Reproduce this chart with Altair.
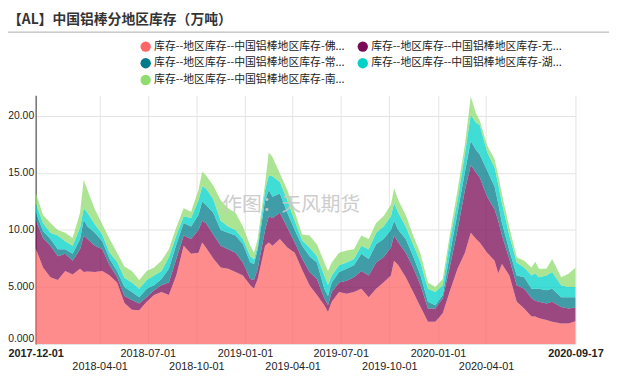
import altair as alt
import pandas as pd

# ---- data ----
dates = [
    "2017-12-01", "2017-12-15", "2017-12-29", "2018-01-12", "2018-01-26", "2018-02-09", "2018-02-23",
    "2018-03-02", "2018-03-09", "2018-03-23", "2018-04-06", "2018-04-20", "2018-05-04", "2018-05-18",
    "2018-06-01", "2018-06-15", "2018-06-29", "2018-07-13", "2018-07-27", "2018-08-10", "2018-08-24",
    "2018-09-07", "2018-09-21", "2018-10-05", "2018-10-12", "2018-10-19", "2018-11-02", "2018-11-16",
    "2018-11-30", "2018-12-14", "2018-12-28", "2019-01-11", "2019-01-18", "2019-01-25", "2019-02-08",
    "2019-02-15", "2019-02-22", "2019-03-08", "2019-03-22", "2019-04-05", "2019-04-19", "2019-05-03",
    "2019-05-17", "2019-05-31", "2019-06-07", "2019-06-14", "2019-06-28", "2019-07-12", "2019-07-26",
    "2019-08-09", "2019-08-23", "2019-09-06", "2019-09-20", "2019-10-04", "2019-10-10", "2019-10-18",
    "2019-11-01", "2019-11-15", "2019-11-29", "2019-12-13", "2019-12-27", "2020-01-10", "2020-01-24",
    "2020-02-07", "2020-02-21", "2020-03-03", "2020-03-13", "2020-03-20", "2020-04-03", "2020-04-17",
    "2020-04-24", "2020-05-01", "2020-05-15", "2020-05-29", "2020-06-12", "2020-06-26", "2020-07-03",
    "2020-07-10", "2020-07-24", "2020-08-04", "2020-08-21", "2020-09-04", "2020-09-17",
]

foshan = [8.4, 6.7, 5.85, 5.6, 6.4, 6.1, 6.6, 6.3, 6.35, 6.3,
          6.4, 6.0, 5.4, 3.6, 3.0, 2.95, 3.7, 4.3, 4.55, 4.3,
          6.0, 8.6, 7.9, 8.0, 8.9, 8.45, 7.5, 6.7, 6.6, 6.3,
          6.0, 5.15, 4.85, 5.7, 8.6, 8.9, 8.6, 9.2, 8.45, 8.0,
          6.5, 5.15, 4.3, 3.4, 2.8, 3.7, 4.55, 4.4, 4.55, 4.85,
          4.1, 4.85, 5.4, 6.0, 7.3, 6.9, 5.85, 4.55, 3.25, 1.95,
          1.95, 2.7, 4.7, 6.6, 8.0, 9.75, 9.2, 8.9, 8.0, 7.3,
          6.2, 7.0, 6.0, 3.7, 3.1, 2.4, 2.4, 2.25, 2.1, 1.95,
          1.8, 1.8, 2.0]
wuxi = [2.5, 2.6, 2.75, 2.1, 1.5, 1.2, 1.7, 3.2, 2.85, 2.3,
        1.9, 0.9, 0.5, 0.6, 0.85, 0.6, 0.4, 0.4, 0.6, 1.1,
        1.45, 0.9, 1.3, 2.0, 1.9, 2.15, 2.1, 1.9, 1.7, 1.7,
        1.15, 0.55, 0.75, 0.9, 1.4, 2.3, 2.45, 2.3, 1.75, 0.9,
        1.0, 1.15, 1.4, 0.6, 0.6, 0.85, 0.85, 1.15, 1.3, 1.55,
        1.9, 2.3, 2.2, 2.45, 2.2, 2.0, 2.15, 2.15, 1.9, 1.15,
        1.15, 1.3, 2.2, 3.4, 5.5, 5.95, 5.8, 5.7, 4.9, 4.5,
        4.6, 2.5, 1.45, 1.45, 1.75, 1.6, 1.4, 1.45, 1.45, 1.75,
        1.45, 1.3, 1.2]
changzhou = [0.7, 0.6, 0.6, 0.6, 0.4, 0.6, 0.9, 1.4, 1.1, 1.15,
             0.7, 0.55, 0.5, 0.8, 0.7, 0.55, 0.75, 0.45, 0.55, 1.2,
             1.25, 1.1, 1.1, 1.3, 1.7, 1.6, 1.9, 1.4, 1.45, 1.5,
             1.6, 1.45, 1.4, 1.7, 2.6, 2.3, 1.85, 1.7, 1.3, 1.1,
             1.1, 1.4, 1.45, 0.85, 0.8, 0.85, 0.9, 1.05, 1.05, 1.5,
             1.45, 1.6, 1.6, 1.55, 1.3, 1.1, 1.2, 1.0, 0.85, 0.6,
             0.3, 0.3, 1.1, 1.5, 1.6, 2.1, 2.0, 2.0, 2.3, 2.0,
             1.5, 1.1, 0.75, 0.85, 1.0, 0.85, 1.05, 1.15, 1.15, 1.15,
             0.85, 1.0, 0.9]
huzhou = [0.75, 0.7, 0.55, 1.2, 0.7, 0.7, 1.0, 1.0, 1.2, 0.75,
          0.6, 0.55, 0.8, 0.8, 0.85, 0.75, 0.75, 0.85, 0.7, 1.0,
          0.8, 0.6, 0.75, 1.3, 1.3, 1.45, 1.2, 0.8, 0.55, 0.5,
          0.45, 0.55, 0.4, 0.3, 0.9, 1.3, 1.8, 1.0, 1.1, 0.8,
          0.5, 0.75, 0.55, 1.15, 1.0, 0.6, 0.6, 0.55, 0.55, 0.7,
          0.85, 1.0, 1.1, 1.2, 1.55, 1.5, 1.1, 1.05, 1.15, 1.15,
          1.15, 0.85, 1.2, 1.1, 1.6, 2.3, 2.4, 2.6, 1.6, 1.7,
          1.7, 1.75, 1.3, 1.15, 0.85, 1.15, 1.35, 1.0, 1.3, 1.45,
          1.05, 0.9, 0.9]
nanhai = [0.95, 0.7, 0.85, 0.5, 0.75, 0.7, 1.3, 2.5, 2.0, 1.3,
          0.9, 1.2, 0.8, 1.0, 1.0, 0.75, 0.8, 0.7, 0.9, 0.7,
          0.7, 0.7, 0.55, 0.9, 1.3, 1.15, 1.2, 1.8, 1.6, 1.5,
          1.1, 0.9, 0.6, 0.6, 0.6, 2.0, 1.7, 0.75, 0.9, 0.8,
          0.5, 1.05, 1.05, 1.15, 1.2, 1.15, 1.1, 1.05, 0.85, 0.9,
          0.9, 0.85, 0.9, 1.0, 1.3, 1.1, 1.0, 0.75, 0.75, 0.55,
          0.45, 0.55, 0.55, 0.9, 0.8, 1.6, 0.8, 0.4, 0.6, 0.7,
          0.8, 0.75, 0.7, 0.45, 0.6, 0.7, 1.0, 0.75, 0.6, 1.15,
          0.7, 1.15, 1.7]

series_names = [
    "库存--地区库存--中国铝棒地区库存-佛山",
    "库存--地区库存--中国铝棒地区库存-无锡",
    "库存--地区库存--中国铝棒地区库存-常州",
    "库存--地区库存--中国铝棒地区库存-湖州",
    "库存--地区库存--中国铝棒地区库存-南海",
]
series_colors = ["#ff6666", "#7a0a55", "#007b8a", "#00d2c8", "#8fdc6f"]

title_text = "【AL】中国铝棒分地区库存（万吨）"
watermark_text = "作图：天风期货"

tick_dates = ["2017-12-01", "2018-04-01", "2018-07-01", "2018-10-01", "2019-01-01", "2019-04-01",
              "2019-07-01", "2019-10-01", "2020-01-01", "2020-04-01", "2020-09-17"]
second_row = ["2018-04-01", "2018-10-01", "2019-04-01", "2019-10-01", "2020-04-01"]
bold_ticks = ["2017-12-01", "2020-09-17"]
y_ticks = [0, 5, 10, 15, 20]

# ---- build table ----
rows = []
for i, (name, vals) in enumerate(zip(series_names, [foshan, wuxi, changzhou, huzhou, nanhai])):
    for d, v in zip(dates, vals):
        rows.append({"date": d, "series": name, "value": v, "order": i})
df = pd.DataFrame(rows)


def dt(s):
    y, m, d = (int(p) for p in s.split("-"))
    return alt.DateTime(year=y, month=m, date=d, utc=True)


LEFT = 36  # page x of the plot's left edge
W, H = 583 - LEFT, 252
FMT = "utcFormat(datum.value, '%Y-%m-%d')"
row2_list = "[" + ",".join("'%s'" % s for s in second_row) + "]"
bold_test = " || ".join("%s == '%s'" % (FMT, s) for s in bold_ticks)

x_axis = alt.Axis(
    values=[dt(s) for s in tick_dates],
    labelExpr="indexof(%s, %s) >= 0 ? ['', %s] : %s" % (row2_list, FMT, FMT, FMT),
    labelFontWeight={"condition": {"test": bold_test, "value": "bold"}, "value": "normal"},
    labelOverlap=False,
    labelFlush=False,
    labelBound=False,
    labelFont="Liberation Sans",
    labelFontSize=11,
    labelColor="#222222",
    labelPadding=4,
    labelLineHeight=13,
    domain=False,
    ticks=False,
    grid=True,
    gridColor="#e4e4e4",
    title=None,
)

y_axis = alt.Axis(
    values=y_ticks,
    labelExpr="datum.value == 0 ? '0.000' : format(datum.value, '.4r')",
    labelFont="Liberation Sans",
    labelFontSize=10.5,
    labelColor="#222222",
    labelPadding=2,
    labelOverlap=False,
    labelFlush=True,
    domain=True,
    domainColor="#333333",
    ticks=False,
    grid=True,
    gridColor="#e4e4e4",
    title=None,
)

legend = alt.Legend(
    title=None,
    orient="none",
    direction="horizontal",
    legendX=148 - LEFT - 6,
    legendY=-55,
    columns=2,
    symbolType="circle",
    symbolSize=110,
    symbolOpacity=1,
    symbolStrokeWidth=0,
    labelFont="Noto Sans CJK SC",
    labelFontSize=11,
    labelColor="#222222",
    labelLimit=260,
    labelOffset=3,
    columnPadding=12,
    rowPadding=5,
    padding=0,
    labelExpr="slice(datum.label, 0, 20) + '...'",
)

area = alt.Chart(df).mark_area(opacity=0.75, interpolate="linear").encode(
    x=alt.X("date:T", scale=alt.Scale(type="utc", domain=[dt("2017-12-01"), dt("2020-09-17")], nice=False),
            axis=x_axis),
    y=alt.Y("value:Q", stack="zero", scale=alt.Scale(domain=[0, 21.8], nice=False), axis=y_axis),
    color=alt.Color("series:N", scale=alt.Scale(domain=series_names, range=series_colors), legend=legend),
    order=alt.Order("order:Q", sort="ascending"),
)

text_df = pd.DataFrame({"t": [title_text]})
title = alt.Chart(text_df).mark_text(
    align="left", baseline="middle", fontSize=14, fontWeight="bold", font="Noto Sans CJK SC", color="#333333"
).encode(text="t:N", x=alt.value(8 - LEFT), y=alt.value(-76))

sep = alt.Chart(text_df).mark_rule(color="#aaaaaa", strokeWidth=1).encode(
    x=alt.value(3 - LEFT), x2=alt.value(617 - LEFT), y=alt.value(-64)
)

wm_df = pd.DataFrame({"t": [watermark_text]})
watermark = alt.Chart(wm_df).mark_text(
    align="center", baseline="middle", fontSize=20, font="Noto Sans CJK SC", color="#c8c8c8", opacity=0.9
).encode(text="t:N", x=alt.value(295 - LEFT), y=alt.value(111))

chart = alt.layer(area, watermark, title, sep).properties(
    width=W, height=H,
    autosize=alt.AutoSizeParams(type="none"),
    padding={"left": LEFT - 8, "top": 86, "right": 617 - 8 - (LEFT - 8) - W, "bottom": 30},
).configure_view(strokeWidth=0)

chart.save("out.html", embed_options={"renderer": "svg", "actions": False})
